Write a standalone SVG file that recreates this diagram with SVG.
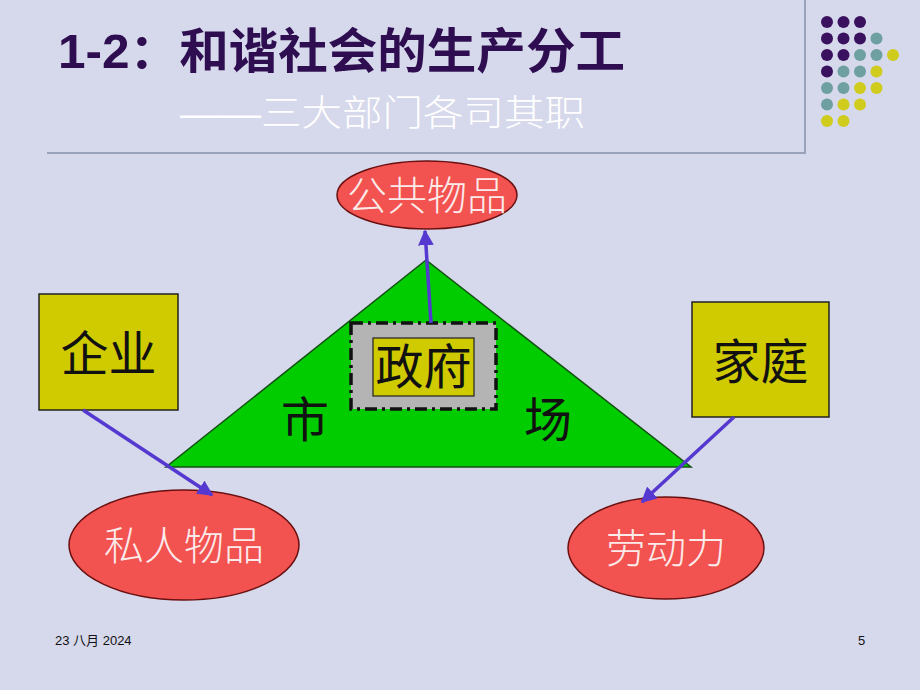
<svg xmlns="http://www.w3.org/2000/svg" width="920" height="690" viewBox="0 0 920 690">
<defs>
<style>
.cjk{font-family:"Liberation Sans","Noto Sans CJK SC",sans-serif;}
.box{fill:#D0CA00;stroke:#222;stroke-width:1.5;}
.ell{fill:#F25250;stroke:#6A1010;stroke-width:1.5;}
.etxt{fill:#FBEAEA;font-size:40px;font-weight:300;text-anchor:middle;dominant-baseline:central;}
.btxt{fill:#111;font-size:48px;text-anchor:middle;dominant-baseline:central;}
.conn{stroke:#5438D0;stroke-width:3.5;fill:none;marker-end:url(#ah);}
.dp{fill:#3A115E;}.dt{fill:#6E9FA1;}.dy{fill:#D0CC1E;}
</style>
<marker id="ah" viewBox="0 0 10 10" refX="9" refY="5" markerWidth="4.5" markerHeight="4.5" orient="auto" markerUnits="strokeWidth">
<path d="M0,0 L10,5 L0,10 z" fill="#5438D0"/>
</marker>
</defs>
<rect width="920" height="690" fill="#D6D8EB"/>
<g id="header">
<line x1="47" y1="153" x2="806" y2="153" stroke="#9AA2BA" stroke-width="2"/>
<line x1="805" y1="0" x2="805" y2="153" stroke="#9AA2BA" stroke-width="2"/>
<text class="cjk" x="58" y="68" font-size="48" font-weight="bold" fill="#2E0E50" textLength="567" lengthAdjust="spacingAndGlyphs">1-2：和谐社会的生产分工</text>
<text class="cjk" x="180" y="126" font-size="36" font-weight="300" fill="#FFFFFF" textLength="405" lengthAdjust="spacingAndGlyphs">——三大部门各司其职</text>
</g>
<g id="dots">
<circle class="dp" cx="827" cy="22" r="6"/><circle class="dp" cx="843.5" cy="22" r="6"/><circle class="dp" cx="860" cy="22" r="6"/>
<circle class="dp" cx="827" cy="38.5" r="6"/><circle class="dp" cx="843.5" cy="38.5" r="6"/><circle class="dp" cx="860" cy="38.5" r="6"/><circle class="dt" cx="876.5" cy="38.5" r="6"/>
<circle class="dp" cx="827" cy="55" r="6"/><circle class="dp" cx="843.5" cy="55" r="6"/><circle class="dt" cx="860" cy="55" r="6"/><circle class="dt" cx="876.5" cy="55" r="6"/><circle class="dy" cx="893" cy="55" r="6"/>
<circle class="dp" cx="827" cy="71.5" r="6"/><circle class="dt" cx="843.5" cy="71.5" r="6"/><circle class="dt" cx="860" cy="71.5" r="6"/><circle class="dy" cx="876.5" cy="71.5" r="6"/>
<circle class="dt" cx="827" cy="88" r="6"/><circle class="dt" cx="843.5" cy="88" r="6"/><circle class="dy" cx="860" cy="88" r="6"/><circle class="dy" cx="876.5" cy="88" r="6"/>
<circle class="dt" cx="827" cy="104.5" r="6"/><circle class="dy" cx="843.5" cy="104.5" r="6"/><circle class="dy" cx="860" cy="104.5" r="6"/>
<circle class="dy" cx="827" cy="121" r="6"/><circle class="dy" cx="843.5" cy="121" r="6"/>
</g>
<g id="market">
<polygon points="426,260 166,467 691,467" fill="#00CC00" stroke="#145014" stroke-width="1.5"/>
<text class="cjk btxt" x="305" y="420">市</text>
<text class="cjk btxt" x="548" y="420">场</text>
</g>
<g id="government">
<rect x="351" y="323" width="145" height="86" fill="#B4B4B4" stroke="#111" stroke-width="3.5" stroke-dasharray="12,5,3,5"/>
<rect x="373" y="338" width="101" height="58" fill="#D0CA00" stroke="#222" stroke-width="1.2"/>
<text class="cjk btxt" x="423.5" y="367" font-size="46">政府</text>
</g>
<g id="enterprise">
<rect class="box" x="39" y="294" width="139" height="116"/>
<text class="cjk btxt" x="108.5" y="354">企业</text>
</g>
<g id="household">
<rect class="box" x="692" y="302" width="137" height="115"/>
<text class="cjk btxt" x="760.5" y="362">家庭</text>
</g>
<g id="public-goods">
<ellipse class="ell" cx="427" cy="195" rx="90" ry="34"/>
<text class="cjk etxt" x="427" y="196">公共物品</text>
</g>
<g id="private-goods">
<ellipse class="ell" cx="184" cy="545" rx="115" ry="55"/>
<text class="cjk etxt" x="184" y="546">私人物品</text>
</g>
<g id="labor">
<ellipse class="ell" cx="666" cy="548" rx="98" ry="51"/>
<text class="cjk etxt" x="666" y="549" font-size="42">劳动力</text>
</g>
<g id="connectors">
<line class="conn" x1="431" y1="323" x2="425" y2="231"/>
<line class="conn" x1="83" y1="410" x2="212" y2="495"/>
<line class="conn" x1="734" y1="417" x2="642" y2="502"/>
</g>
<g id="footer">
<text class="cjk" x="55" y="645" font-size="13" fill="#111">23 八月 2024</text>
<text class="cjk" x="858" y="645" font-size="13" fill="#111">5</text>
</g>
</svg>
